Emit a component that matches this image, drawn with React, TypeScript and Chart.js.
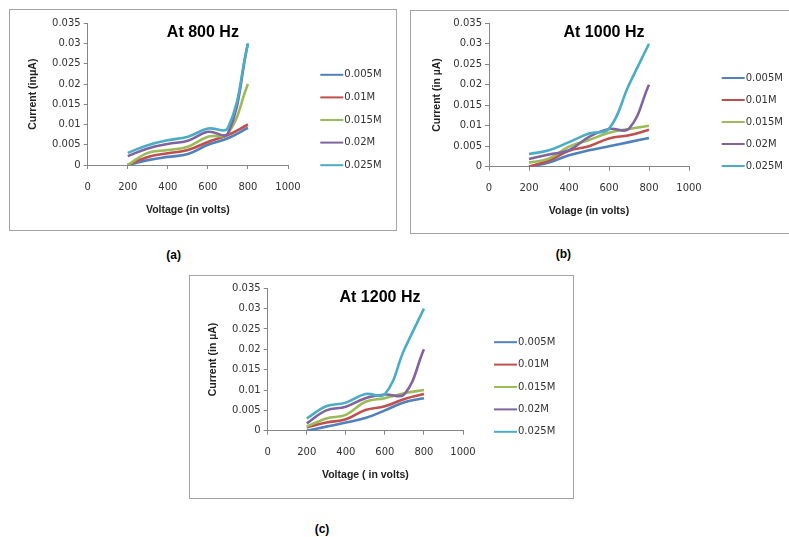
import React, { useEffect, useRef } from "react";
import { Chart, registerables } from "chart.js";

Chart.register(...registerables);

// ---- data ----
const voltages = [200, 300, 400, 500, 600, 700, 800];
const seriesNames = ["0.005M", "0.01M", "0.015M", "0.02M", "0.025M"];
const seriesColors = ["#4F81BD", "#C0504D", "#9BBB59", "#8064A2", "#4BACC6"];
const xTicks = [0, 200, 400, 600, 800, 1000];
const yTicks = [0, 0.005, 0.01, 0.015, 0.02, 0.025, 0.03, 0.035];

// At 800 Hz
const hz800_005 = [0, 0.0012, 0.002, 0.0027, 0.005, 0.0066, 0.0092];
const hz800_010 = [0, 0.002, 0.0029, 0.0037, 0.0057, 0.0074, 0.01];
const hz800_015 = [0, 0.003, 0.0037, 0.0045, 0.007, 0.0078, 0.02];
const hz800_020 = [0.0022, 0.0041, 0.0052, 0.006, 0.0082, 0.0078, 0.03];
const hz800_025 = [0.003, 0.0049, 0.0061, 0.007, 0.009, 0.0092, 0.03];

// At 1000 Hz
const hz1000_005 = [0, 0.001, 0.0028, 0.004, 0.005, 0.006, 0.007];
const hz1000_010 = [0, 0.0015, 0.0039, 0.005, 0.0069, 0.0077, 0.009];
const hz1000_015 = [0.001, 0.002, 0.0049, 0.0065, 0.0083, 0.0092, 0.01];
const hz1000_020 = [0.0019, 0.003, 0.004, 0.0073, 0.0092, 0.0093, 0.02];
const hz1000_025 = [0.0031, 0.004, 0.006, 0.0081, 0.0093, 0.02, 0.03];

// At 1200 Hz
const hz1200_005 = [0, 0.001, 0.002, 0.0031, 0.005, 0.007, 0.008];
const hz1200_010 = [0.0008, 0.002, 0.0028, 0.0051, 0.006, 0.0078, 0.009];
const hz1200_015 = [0.001, 0.003, 0.0039, 0.0071, 0.008, 0.0092, 0.01];
const hz1200_020 = [0.0018, 0.005, 0.0059, 0.008, 0.0089, 0.009, 0.02];
const hz1200_025 = [0.003, 0.006, 0.0069, 0.009, 0.009, 0.02, 0.03];

const TICK_FONT = '"DejaVu Sans", sans-serif';
const BOLD_FONT = '"Liberation Sans", Arial, sans-serif';

type PanelProps = {
  left: number;
  top: number;
  width: number;
  height: number;
  title: string;
  xTitle: string;
  yTitle: string;
  values: number[][];
  yAxisWidth: number;
  xAxisHeight: number;
  padTop: number;
  padRight: number;
  yTitlePad: number;
  xTitlePad: number;
  legendGap: number;
  legendRow: number;
};

function Panel(p: PanelProps) {
  const ref = useRef<HTMLCanvasElement | null>(null);
  const cw = p.width - 2;
  const ch = p.height - 2;

  useEffect(() => {
    if (!ref.current) return;

    const titlePlugin = {
      id: "innerTitle",
      afterDraw(chart: any) {
        const { ctx, chartArea } = chart;
        ctx.save();
        ctx.font = `bold 16px ${BOLD_FONT}`;
        ctx.fillStyle = "#000";
        ctx.textAlign = "center";
        ctx.textBaseline = "middle";
        ctx.fillText(
          p.title,
          chartArea.left + 0.575 * (chartArea.right - chartArea.left),
          chartArea.top + 9.5
        );
        ctx.restore();
      },
    };

    const legendPlugin = {
      id: "sideLegend",
      afterDraw(chart: any) {
        const { ctx, chartArea } = chart;
        const ds = chart.data.datasets;
        const n = ds.length;
        const x0 = chartArea.right + p.legendGap;
        const cy = chart.height / 2;
        ctx.save();
        ctx.font = `10px ${TICK_FONT}`;
        ctx.textBaseline = "middle";
        ctx.textAlign = "left";
        ds.forEach((d: any, i: number) => {
          const y = cy + (i - (n - 1) / 2) * p.legendRow;
          ctx.strokeStyle = d.borderColor;
          ctx.lineWidth = 2;
          ctx.beginPath();
          ctx.moveTo(x0, y);
          ctx.lineTo(x0 + 23, y);
          ctx.stroke();
          ctx.fillStyle = "#333";
          ctx.fillText(d.label, x0 + 24, y);
        });
        ctx.restore();
      },
    };

    const n = p.values.length;
    const chart = new Chart(ref.current, {
      type: "line",
      data: {
        datasets: p.values.map((vals, i) => ({
          label: seriesNames[i],
          data: vals.map((v, j) => ({ x: voltages[j], y: v })),
          borderColor: seriesColors[i],
          backgroundColor: seriesColors[i],
          borderWidth: 2.6,
          pointRadius: 0,
          tension: 0.4,
          fill: false,
          order: n - 1 - i,
        })),
      },
      options: {
        responsive: false,
        animation: false,
        devicePixelRatio: 1,
        layout: { padding: { top: p.padTop, right: p.padRight, left: 0, bottom: 0 } },
        plugins: {
          legend: { display: false },
          title: { display: false },
          tooltip: { enabled: false },
        },
        scales: {
          x: {
            type: "linear",
            min: 0,
            max: 1000,
            afterBuildTicks: (s: any) => {
              s.ticks = xTicks.map((v) => ({ value: v }));
            },
            afterFit: (s: any) => {
              s.height = p.xAxisHeight;
            },
            grid: {
              drawOnChartArea: false,
              drawTicks: true,
              tickLength: 4,
              color: "#868686",
            },
            border: { color: "#868686", width: 1 },
            ticks: {
              font: { family: TICK_FONT, size: 10 },
              color: "#333",
              padding: 12,
              maxRotation: 0,
              autoSkip: false,
              callback: (v: any) => String(v),
            },
            title: {
              display: true,
              text: p.xTitle,
              font: { family: BOLD_FONT, size: 10.5, weight: "bold" },
              color: "#222",
              padding: { top: 0, bottom: p.xTitlePad },
            },
          },
          y: {
            type: "linear",
            min: 0,
            max: 0.035,
            afterBuildTicks: (s: any) => {
              s.ticks = yTicks.map((v) => ({ value: v }));
            },
            afterFit: (s: any) => {
              s.width = p.yAxisWidth;
            },
            grid: {
              drawOnChartArea: false,
              drawTicks: true,
              tickLength: 4,
              color: "#868686",
            },
            border: { color: "#868686", width: 1 },
            ticks: {
              font: { family: TICK_FONT, size: 10 },
              color: "#333",
              padding: 3,
              autoSkip: false,
              callback: (v: any) => String(Number(Number(v).toFixed(3))),
            },
            title: {
              display: true,
              text: p.yTitle,
              font: { family: BOLD_FONT, size: 10.5, weight: "bold" },
              color: "#222",
              padding: { top: p.yTitlePad, bottom: 0 },
            },
          },
        },
      },
      plugins: [titlePlugin, legendPlugin],
    } as any);

    return () => chart.destroy();
  }, []);

  return (
    <div
      style={{
        position: "absolute",
        left: p.left,
        top: p.top,
        width: p.width,
        height: p.height,
        boxSizing: "border-box",
        border: "1px solid #a3a3a3",
        background: "#fff",
      }}
    >
      <canvas
        ref={ref}
        width={cw}
        height={ch}
        style={{ position: "absolute", left: 0, top: 0, width: cw, height: ch, display: "block" }}
      />
    </div>
  );
}

function Caption({ x, y, text }: { x: number; y: number; text: string }) {
  return (
    <div
      style={{
        position: "absolute",
        left: x,
        top: y,
        transform: "translate(-50%, -50%)",
        font: `bold 12px ${BOLD_FONT}`,
        color: "#000",
        whiteSpace: "nowrap",
      }}
    >
      {text}
    </div>
  );
}

export default function App() {
  return (
    <div
      style={{
        position: "fixed",
        left: 0,
        top: 0,
        width: 789,
        height: 537,
        overflow: "hidden",
        background: "#fff",
      }}
    >
      <Panel
        left={9}
        top={9}
        width={388}
        height={222}
        title="At 800 Hz"
        xTitle="Voltage (in volts)"
        yTitle="Current (inμA)"
        values={[hz800_005, hz800_010, hz800_015, hz800_020, hz800_025]}
        yAxisWidth={77.7}
        xAxisHeight={65}
        padTop={13.3}
        padRight={108}
        yTitlePad={17}
        xTitlePad={14}
        legendGap={32.3}
        legendRow={22.6}
      />
      <Panel
        left={410}
        top={10}
        width={400}
        height={224}
        title="At 1000 Hz"
        xTitle="Volage (in volts)"
        yTitle="Current (in µA)"
        values={[hz1000_005, hz1000_010, hz1000_015, hz1000_020, hz1000_025]}
        yAxisWidth={78}
        xAxisHeight={66.3}
        padTop={12.3}
        padRight={120}
        yTitlePad={19.7}
        xTitlePad={16}
        legendGap={32.7}
        legendRow={22}
      />
      <Panel
        left={189}
        top={275}
        width={385}
        height={224}
        title="At 1200 Hz"
        xTitle="Voltage ( in volts)"
        yTitle="Current (in µA)"
        values={[hz1200_005, hz1200_010, hz1200_015, hz1200_020, hz1200_025]}
        yAxisWidth={77.7}
        xAxisHeight={67.3}
        padTop={12.3}
        padRight={110}
        yTitlePad={17.3}
        xTitlePad={17}
        legendGap={31}
        legendRow={22.4}
      />
      <Caption x={173.7} y={255} text="(a)" />
      <Caption x={563.3} y={254} text="(b)" />
      <Caption x={322} y={529} text="(c)" />
    </div>
  );
}
